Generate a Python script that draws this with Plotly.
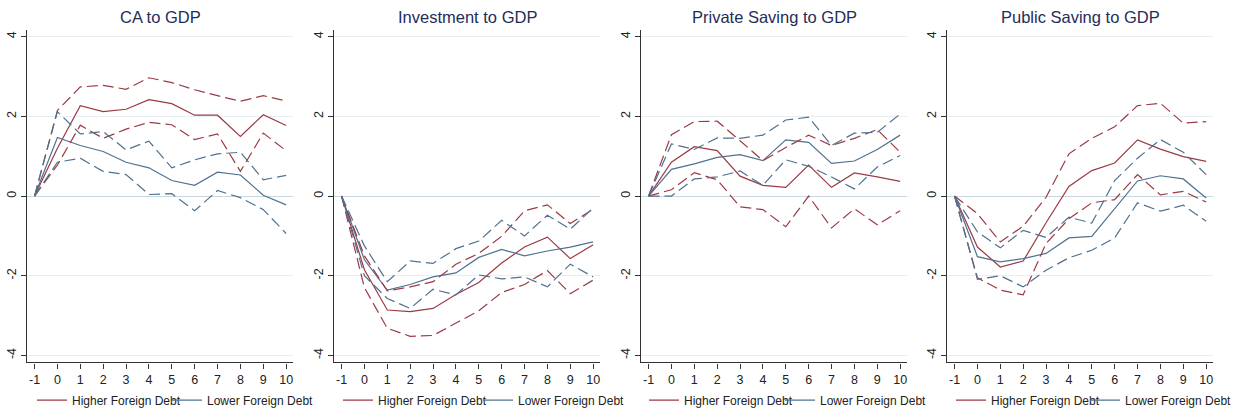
import plotly.graph_objects as go

horizon = [-1, 0, 1, 2, 3, 4, 5, 6, 7, 8, 9, 10]
x_tick_vals = [-1, 0, 1, 2, 3, 4, 5, 6, 7, 8, 9, 10]
x_tick_text = ["-1", "0", "1", "2", "3", "4", "5", "6", "7", "8", "9", "10"]
y_tick_vals = [-4, -2, 0, 2, 4]
y_tick_text = ["-4", "-2", "0", "2", "4"]

titles = ["CA to GDP", "Investment to GDP", "Private Saving to GDP", "Public Saving to GDP"]
series_names = ["Higher Foreign Debt", "Lower Foreign Debt"]

# CA to GDP
ca_hi = [0, 1.2, 2.27, 2.12, 2.18, 2.42, 2.32, 2.03, 2.03, 1.5, 2.04, 1.77]
ca_hi_up = [0, 2.15, 2.74, 2.78, 2.68, 2.97, 2.85, 2.67, 2.52, 2.38, 2.52, 2.39]
ca_hi_lo = [0, 0.78, 1.78, 1.45, 1.68, 1.85, 1.79, 1.42, 1.56, 0.62, 1.58, 1.14]
ca_lo = [0, 1.47, 1.27, 1.12, 0.85, 0.71, 0.39, 0.27, 0.6, 0.53, 0.02, -0.22]
ca_lo_up = [0, 2.12, 1.56, 1.62, 1.16, 1.38, 0.71, 0.91, 1.06, 1.1, 0.41, 0.52]
ca_lo_lo = [0, 0.85, 0.95, 0.62, 0.54, 0.04, 0.06, -0.37, 0.14, -0.04, -0.34, -0.94]

# Investment to GDP
inv_hi = [0, -1.85, -2.86, -2.9, -2.82, -2.47, -2.17, -1.68, -1.28, -1.03, -1.57, -1.22]
inv_hi_up = [0, -1.5, -2.38, -2.28, -2.15, -1.71, -1.44, -1.01, -0.37, -0.22, -0.69, -0.33]
inv_hi_lo = [0, -2.3, -3.32, -3.52, -3.5, -3.19, -2.88, -2.42, -2.22, -1.87, -2.45, -2.11]
inv_lo = [0, -1.6, -2.36, -2.22, -2.03, -1.93, -1.54, -1.34, -1.5, -1.38, -1.28, -1.15]
inv_lo_up = [0, -1.25, -2.15, -1.63, -1.69, -1.32, -1.13, -0.61, -1.0, -0.48, -0.83, -0.3]
inv_lo_lo = [0, -2.0, -2.57, -2.82, -2.34, -2.48, -1.98, -2.08, -2.03, -2.28, -1.71, -2.03]

# Private Saving to GDP
ps_hi = [0, 0.85, 1.24, 1.14, 0.5, 0.27, 0.22, 0.78, 0.22, 0.58, 0.48, 0.37]
ps_hi_up = [0, 1.54, 1.87, 1.88, 1.39, 0.89, 1.22, 1.53, 1.27, 1.45, 1.67, 1.1]
ps_hi_lo = [0, 0.16, 0.59, 0.41, -0.27, -0.34, -0.77, 0.0, -0.8, -0.32, -0.72, -0.37]
ps_lo = [0, 0.67, 0.81, 0.97, 1.04, 0.89, 1.41, 1.35, 0.82, 0.88, 1.17, 1.53]
ps_lo_up = [0, 1.31, 1.17, 1.46, 1.45, 1.53, 1.91, 1.98, 1.27, 1.58, 1.6, 2.06]
ps_lo_lo = [0, 0.0, 0.43, 0.48, 0.63, 0.27, 0.91, 0.75, 0.48, 0.18, 0.73, 1.02]

# Public Saving to GDP
pub_hi = [0, -1.28, -1.78, -1.63, -0.67, 0.24, 0.64, 0.83, 1.41, 1.18, 0.99, 0.87]
pub_hi_up = [0, -0.44, -1.15, -0.76, -0.03, 1.06, 1.45, 1.74, 2.27, 2.33, 1.83, 1.87]
pub_hi_lo = [0, -2.05, -2.36, -2.48, -1.19, -0.57, -0.17, -0.09, 0.54, 0.03, 0.12, -0.15]
pub_lo = [0, -1.52, -1.65, -1.57, -1.44, -1.05, -1.01, -0.32, 0.38, 0.51, 0.43, -0.05]
pub_lo_up = [0, -0.9, -1.3, -0.86, -1.04, -0.53, -0.68, 0.39, 0.95, 1.42, 1.1, 0.54]
pub_lo_lo = [0, -2.09, -2.0, -2.28, -1.86, -1.55, -1.36, -1.05, -0.17, -0.38, -0.23, -0.63]

panels = [
    (ca_hi, ca_hi_up, ca_hi_lo, ca_lo, ca_lo_up, ca_lo_lo),
    (inv_hi, inv_hi_up, inv_hi_lo, inv_lo, inv_lo_up, inv_lo_lo),
    (ps_hi, ps_hi_up, ps_hi_lo, ps_lo, ps_lo_up, ps_lo_lo),
    (pub_hi, pub_hi_up, pub_hi_lo, pub_lo, pub_lo_up, pub_lo_lo),
]

W, H = 1242, 415
RED = "#9b3a44"
BLUE = "#4f7290"
FONT = "Arial, Liberation Sans, sans-serif"
DASH = "11px,5px"

x_left_px = [27, 334, 641, 947]
panel_w = 266
y_top_px, y_bot_px = 30, 365
legend_red_px = [37, 343, 649, 956]
legend_blue_px = [172, 483, 785, 1090]
legend_y_px = 403

fig = go.Figure()

for i, (hi, hi_up, hi_lo, lo, lo_up, lo_lo) in enumerate(panels):
    k = i + 1
    xa = "x" if k == 1 else f"x{k}"
    ya = "y" if k == 1 else f"y{k}"
    lg_red = f"legend{2 * i + 1}" if i > 0 else "legend"
    lg_blue = f"legend{2 * i + 2}"
    common = dict(x=horizon, xaxis=xa, yaxis=ya, mode="lines", hoverinfo="skip")
    fig.add_trace(go.Scatter(y=hi, name=series_names[0], line=dict(color=RED, width=1.2),
                             legend=lg_red, showlegend=True, **common))
    fig.add_trace(go.Scatter(y=lo, name=series_names[1], line=dict(color=BLUE, width=1.2),
                             legend=lg_blue, showlegend=True, **common))
    for arr, col in ((hi_up, RED), (hi_lo, RED), (lo_up, BLUE), (lo_lo, BLUE)):
        fig.add_trace(go.Scatter(y=arr, line=dict(color=col, width=1.2, dash=DASH),
                                 showlegend=False, **common))

    x0 = x_left_px[i] / W
    x1 = (x_left_px[i] + panel_w) / W
    xkey = "xaxis" if k == 1 else f"xaxis{k}"
    ykey = "yaxis" if k == 1 else f"yaxis{k}"
    legend_style = dict(orientation="h", xanchor="left", y=(H - legend_y_px) / H,
                        yanchor="middle", bgcolor="rgba(0,0,0,0)", borderwidth=0,
                        font=dict(family=FONT, size=12, color="#222222"))
    fig.update_layout(**{
        xkey: dict(domain=[x0, x1], anchor=ya, range=[-1.33, 10.3],
                   tickmode="array", tickvals=x_tick_vals, ticktext=x_tick_text,
                   ticks="outside", ticklen=5,
                   tickcolor="#333333", showline=True, linecolor="#333333", linewidth=1.3,
                   showgrid=False, zeroline=False,
                   tickfont=dict(family=FONT, size=12.5, color="#222222")),
        ykey: dict(domain=[1 - y_bot_px / H, 1 - y_top_px / H], anchor=xa,
                   range=[-4.175, 4.175], tickmode="array", tickvals=y_tick_vals,
                   ticktext=y_tick_text,
                   ticks="outside", ticklen=5, tickcolor="#333333",
                   showline=True, linecolor="#333333", linewidth=1.3,
                   showgrid=True, gridcolor="#e8eff2", gridwidth=1,
                   zeroline=True, zerolinecolor="#c8d6e0", zerolinewidth=1,
                   tickangle=-90,
                   tickfont=dict(family=FONT, size=12.5, color="#222222")),
        lg_red: dict(x=(legend_red_px[i] - 5) / W, **legend_style),
        lg_blue: dict(x=(legend_blue_px[i] - 5) / W, **legend_style),
    })
    fig.add_annotation(text=titles[i], xref="paper", yref="paper",
                       x=(x_left_px[i] + panel_w / 2) / W, y=(H - 17) / H,
                       xanchor="center", yanchor="middle", showarrow=False,
                       font=dict(family=FONT, size=16.5, color="#1f2d5a"))

fig.update_layout(width=W, height=H, margin=dict(l=0, r=0, t=0, b=0),
                  paper_bgcolor="white", plot_bgcolor="white")

fig.write_html("out.html", config={"displayModeBar": False},
               post_script="document.body.style.margin='0px';")
